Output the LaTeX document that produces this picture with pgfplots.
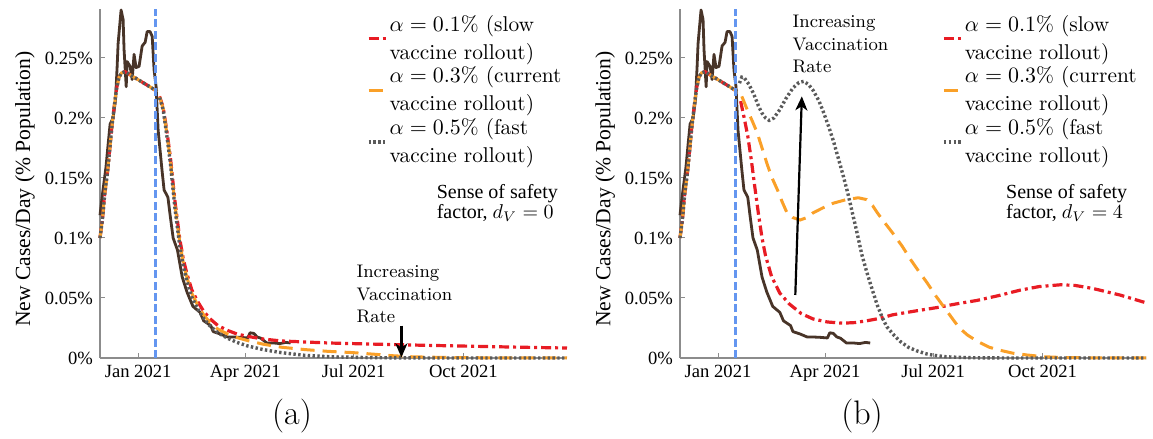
\documentclass[border=0pt]{standalone}
\usepackage{pgfplots}
\pgfplotsset{compat=1.18}
\usepackage{pgfplotstable}
\usepackage{fontspec}
\newfontfamily\tms{Liberation Serif}
\usetikzlibrary{arrows.meta}

\definecolor{cred}{RGB}{232,28,36}
\definecolor{corange}{RGB}{250,160,40}
\definecolor{cgray}{RGB}{90,90,90}
\definecolor{cbrown}{RGB}{72,52,40}
\definecolor{cblue}{RGB}{100,150,240}

% observed data (days from 1 Jan 2021, % of population)
\pgfplotstableread{
d v
-32 0.119
-29.5 0.140
-27 0.159
-25 0.180
-23.5 0.195
-21 0.200
-19 0.215
-17.6 0.243
-16.8 0.262
-14.3 0.290
-12.6 0.282
-11.8 0.257
-10 0.226
-9.2 0.247
-6.7 0.243
-5 0.232
-3.4 0.253
-1.7 0.242
0.8 0.243
3.4 0.260
5.9 0.263
7.6 0.272
10 0.272
11.8 0.268
13.4 0.240
15.1 0.226
16.8 0.190
20 0.157
21.8 0.140
25 0.134
27 0.118
29.4 0.100
33 0.090
37 0.0675
41 0.055
46 0.043
52 0.038
55 0.031
61 0.027
63 0.022
69 0.020
75 0.0175
80 0.0175
86 0.0172
92 0.0167
94 0.021
97 0.0205
100 0.0175
103 0.0165
108 0.0125
114 0.0125
119 0.012
124 0.013
128 0.0125
}\obs

% shared start of all model curves
\pgfplotstableread{
d v
-32 0.100
-30 0.115
-28 0.137
-26 0.152
-24 0.172
-22 0.193
-20 0.210
-18 0.225
-16 0.234
-14 0.2375
-11 0.2386
-6 0.2355
-1 0.2325
4 0.2295
9 0.2265
13 0.2240
16 0.2220
}\common

\pgfplotstableread{
d v
18 0.218
21 0.209
24 0.190
27 0.168
31 0.130
35 0.099
38 0.082
41 0.070
45 0.057
50 0.047
55 0.039
60 0.033
67 0.027
75 0.023
83 0.020
92 0.018
105 0.0158
120 0.0142
160 0.0125
200 0.0115
240 0.0106
280 0.0098
320 0.0090
360 0.0083
}\redA

\pgfplotstableread{
d v
18 0.2175
21 0.208
24 0.188
27 0.166
31 0.127
35 0.096
38 0.079
41 0.067
45 0.054
50 0.044
55 0.036
60 0.030
67 0.024
75 0.020
83 0.017
92 0.0145
105 0.0115
120 0.009
140 0.007
160 0.0055
180 0.0045
200 0.003
212 0.002
230 0.001
260 0.0004
300 0.0001
360 0
}\orangeA

\pgfplotstableread{
d v
18 0.217
21 0.207
24 0.186
27 0.163
31 0.124
35 0.093
38 0.076
41 0.064
45 0.051
50 0.041
55 0.033
60 0.027
67 0.021
75 0.0165
83 0.013
92 0.010
105 0.007
120 0.0045
140 0.0022
161 0.001
200 0.0002
250 0
360 0
}\grayA

\pgfplotstableread{
d v
19 0.214
22 0.200
25 0.185
28 0.165
31 0.142
34 0.120
37 0.100
40 0.085
45 0.068
52 0.054
60 0.045
70 0.037
80 0.0325
92 0.030
105 0.029
115 0.0295
125 0.031
136 0.033
147 0.036
165 0.039
184 0.042
200 0.045
218 0.048
236 0.052
254 0.0565
270 0.0595
288 0.061
300 0.0605
315 0.058
338 0.0525
360 0.046
}\redB

\pgfplotstableread{
d v
20 0.218
24.5 0.207
29 0.197
33 0.1875
37 0.175
41 0.1625
45 0.151
50 0.140
54 0.130
58 0.121
63 0.117
69 0.115
75 0.117
80 0.121
88 0.125
97 0.129
108 0.132
118 0.1335
125 0.132
130 0.127
134 0.121
140 0.113
147 0.104
155 0.093
162 0.082
169 0.072
176 0.0625
183 0.052
190 0.0425
197 0.033
203 0.025
210 0.019
218 0.014
228 0.009
237 0.0065
248 0.004
260 0.0025
275 0.001
290 0.0004
320 0.0001
360 0
}\orangeB

\pgfplotstableread{
d v
18 0.229
20 0.234
22 0.2335
26 0.228
30 0.220
34 0.210
37 0.204
40 0.200
43 0.198
47 0.200
52 0.207
57 0.216
63 0.225
68 0.2295
72 0.2305
76 0.228
80 0.223
85 0.214
89 0.204
93 0.193
97 0.181
101 0.167
105 0.153
109 0.138
113 0.121
117 0.104
121 0.086
125 0.072
130 0.056
134 0.044
138 0.034
142 0.026
148 0.019
153 0.014
160 0.009
167 0.006
175 0.0035
181 0.0023
192 0.001
203 0.0005
220 0.0001
250 0
360 0
}\grayB

\pgfplotsset{
  panel/.style={
    scale only axis, width=233.5pt, height=174.5pt,
    xmin=-32, xmax=360, ymin=0, ymax=0.2908,
    axis lines*=left,
    axis line style={draw=black!45, line width=0.6pt},
    xtick={0,90,181,273},
    xticklabels={Jan 2021,Apr 2021,Jul 2021,Oct 2021},
    ytick={0,0.05,0.1,0.15,0.2,0.25},
    yticklabels={0\%,0.05\%,0.1\%,0.15\%,0.2\%,0.25\%},
    tick label style={font=\tms\fontsize{9.3}{11}\selectfont},
    tick style={draw=black!45, line width=0.5pt},
    major tick length=2.5pt,
    tick align=inside,
    ylabel={New Cases/Day (\% Population)},
    ylabel style={font=\tms\fontsize{10.8}{13}\selectfont,
      at={(axis description cs:-0.1606,0.484)}, anchor=center},
    legend cell align=left,
    legend style={draw=none, fill=none,
      font=\fontsize{10.7}{12.75}\selectfont,
      cells={align=left}, anchor=north west, row sep=1pt,
      nodes={inner sep=0.6pt}},
    legend image code/.code={\draw[##1] (0pt,0pt) -- (9pt,0pt);},
    clip=false,
  },
  redline/.style={color=cred, line width=1.6pt, dash pattern=on 5pt off 2pt on 1.5pt off 2pt},
  orangeline/.style={color=corange, line width=1.5pt, dash pattern=on 7pt off 4pt},
  grayline/.style={color=cgray, line width=1.7pt, dash pattern=on 1.2pt off 1.2pt},
  obsline/.style={color=cbrown, line width=1.4pt, line join=round},
  vline/.style={color=cblue, line width=1.3pt, dash pattern=on 4pt off 1.7pt},
}

\begin{document}
\begin{tikzpicture}
\path[use as bounding box] (0,0) rectangle (576.5pt,219.5pt);

% ---------- panel (a) ----------
\begin{axis}[panel, at={(50pt,40.5pt)}, anchor=south west,
  legend style={at={(axis description cs:0.558,0.998)}}]
\addplot[obsline, forget plot] table[x=d,y=v] {\obs};
\addplot[redline, forget plot] table[x=d,y=v] {\common};
\addplot[redline] table[x=d,y=v] {\redA};
\addlegendentry{$\alpha=0.1\%$ (slow\\[1.3pt]vaccine rollout)}
\addplot[orangeline, forget plot] table[x=d,y=v] {\common};
\addplot[orangeline] table[x=d,y=v] {\orangeA};
\addlegendentry{$\alpha=0.3\%$ (current\\[1.3pt]vaccine rollout)}
\addplot[grayline, forget plot] table[x=d,y=v] {\common};
\addplot[grayline] table[x=d,y=v] {\grayA};
\addlegendentry{$\alpha=0.5\%$ (fast\\[1.3pt]vaccine rollout)}
\addplot[vline, forget plot] coordinates {(14.5,0) (14.5,0.2908)};
\node[anchor=west, align=left, inner sep=0, font=\tms\fontsize{10}{10}\selectfont]
  at (axis cs:250.4,0.129) {Sense of safety\\factor, $d_V=0$};
\node[anchor=north west, align=left, inner sep=0, font=\fontsize{9.1}{11.25}\selectfont]
  at (axis cs:183,0.0775) {Increasing\\Vaccination\\Rate};
\draw[-{Stealth[length=7pt,width=6pt,inset=2pt]}, line width=1.1pt]
  (axis cs:221,0.027) -- (axis cs:221,0.0005);
\end{axis}

% ---------- panel (b) ----------
\begin{axis}[panel, at={(340pt,40.5pt)}, anchor=south west, width=233pt,
  legend style={at={(axis description cs:0.549,0.998)}}]
\addplot[obsline, forget plot] table[x=d,y=v] {\obs};
\addplot[redline, forget plot] table[x=d,y=v] {\common};
\addplot[redline] table[x=d,y=v] {\redB};
\addlegendentry{$\alpha=0.1\%$ (slow\\[1.3pt]vaccine rollout)}
\addplot[orangeline, forget plot] table[x=d,y=v] {\common};
\addplot[orangeline] table[x=d,y=v] {\orangeB};
\addlegendentry{$\alpha=0.3\%$ (current\\[1.3pt]vaccine rollout)}
\addplot[grayline, forget plot] table[x=d,y=v] {\common};
\addplot[grayline] table[x=d,y=v] {\grayB};
\addlegendentry{$\alpha=0.5\%$ (fast\\[1.3pt]vaccine rollout)}
\addplot[vline, forget plot] coordinates {(14.5,0) (14.5,0.2908)};
\node[anchor=west, align=left, inner sep=0, font=\tms\fontsize{10}{10}\selectfont]
  at (axis cs:242,0.129) {Sense of safety\\factor, $d_V=4$};
\node[anchor=north west, align=left, inner sep=0, font=\fontsize{9.1}{11.25}\selectfont]
  at (axis cs:62.4,0.2858) {Increasing\\Vaccination\\Rate};
\draw[-{Stealth[length=7pt,width=6pt,inset=2pt]}, line width=1.1pt]
  (axis cs:65,0.0525) -- (axis cs:70.5,0.218);
\end{axis}

\node[font=\fontsize{17}{20}\selectfont] at (146pt,11.5pt) {(a)};
\node[font=\fontsize{17}{20}\selectfont] at (431pt,11.5pt) {(b)};
\end{tikzpicture}
\end{document}
